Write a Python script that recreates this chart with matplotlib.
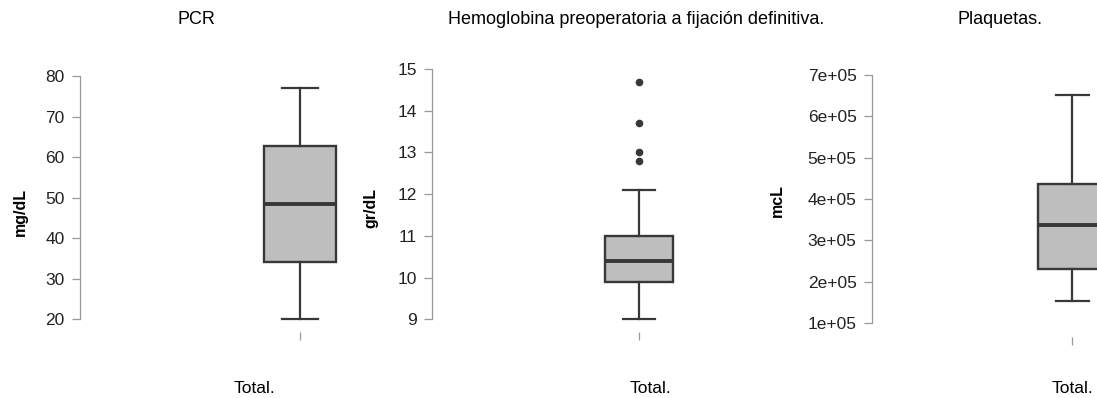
import matplotlib
matplotlib.use("Agg")
import matplotlib.pyplot as plt
from matplotlib.ticker import FuncFormatter

plt.rcParams["font.family"] = ["Liberation Sans", "DejaVu Sans"]

# -----------------------------
# Data
# -----------------------------
titles = ["PCR", "Hemoglobina preoperatoria a fijación definitiva.", "Plaquetas."]
ylabels = ["mg/dL", "gr/dL", "mcL"]
group_label = "Total."

pcr = dict(med=48.5, q1=34.2, q3=62.7, whislo=20, whishi=77, fliers=[])
hb = dict(med=10.4, q1=9.9, q3=11.0, whislo=9.0, whishi=12.1,
          fliers=[12.8, 13.0, 13.7, 14.7])
plaq = dict(med=337000, q1=230000, q3=437000, whislo=155000, whishi=650000,
            fliers=[])

pcr_ticks = [20, 30, 40, 50, 60, 70, 80]
hb_ticks = [9, 10, 11, 12, 13, 14, 15]
plaq_ticks = [100000, 200000, 300000, 400000, 500000, 600000, 700000]

# -----------------------------
# Layout (pixels of a 1097x398 canvas)
# -----------------------------
W, H = 1097, 398
fig = plt.figure(figsize=(W / 100, H / 100), dpi=100)

EDGE = "#383838"
FILL = "#BEBEBE"
AXC = "#999999"


def px_axes(left, center, top, bottom):
    width = 2 * (center - left)
    ax = fig.add_axes([left / W, (H - bottom) / H, width / W, (bottom - top) / H])
    ax.set_facecolor("none")
    return ax


def draw_panel(ax, stats, ticks, ylim, box_w, cap_w, fmt=None):
    ax.bxp([stats], positions=[1], widths=box_w, capwidths=cap_w,
           patch_artist=True, showfliers=True,
           boxprops=dict(facecolor=FILL, edgecolor=EDGE, linewidth=1.7),
           medianprops=dict(color=EDGE, linewidth=2.8),
           whiskerprops=dict(color=EDGE, linewidth=1.6),
           capprops=dict(color=EDGE, linewidth=1.6),
           flierprops=dict(marker="o", markersize=4.5, markerfacecolor=EDGE,
                           markeredgecolor=EDGE))
    ax.set_xlim(0, 2)
    ax.set_ylim(*ylim)
    ax.set_yticks(ticks)
    if fmt is not None:
        ax.yaxis.set_major_formatter(FuncFormatter(fmt))
    ax.set_xticks([1])
    ax.set_xticklabels([""])
    for s in ["top", "right", "bottom"]:
        ax.spines[s].set_visible(False)
    ax.spines["left"].set_bounds(ticks[0], ticks[-1])
    ax.spines["left"].set_color(AXC)
    ax.spines["left"].set_linewidth(0.9)
    ax.tick_params(axis="y", length=6, width=0.9, color=AXC, labelsize=12.5,
                   labelcolor="#222222", pad=5)
    ax.tick_params(axis="x", length=6, width=0.9, color=AXC)


# PCR
ax1 = px_axes(80, 300, 60, 332)
draw_panel(ax1, pcr, pcr_ticks, (16.86, 84.02), 0.33, 0.16)

# Hemoglobina
ax2 = px_axes(432, 639, 60, 332)
draw_panel(ax2, hb, hb_ticks, (8.696, 15.216), 0.333, 0.15)

# Plaquetas
ax3 = px_axes(872, 1072, 60, 337)
draw_panel(ax3, plaq, plaq_ticks, (66900, 735500), 0.336, 0.165,
           fmt=lambda v, p: f"{v:.0e}")

# -----------------------------
# Titles and labels
# -----------------------------
for x, t in zip([196, 636, 1000], titles):
    fig.text(x / W, (H - 24) / H, t, ha="center", va="baseline", fontsize=13)
for (x, y), lab in zip([(20, 212), (371, 208), (777, 201)], ylabels):
    fig.text(x / W, (H - y) / H, lab, ha="center", va="center", rotation=90,
             fontsize=11.5, fontweight="bold")
for x in [255, 651, 1072]:
    fig.text(x / W, (H - 393) / H, group_label, ha="center", va="baseline",
             fontsize=12.5)

fig.savefig("out.png", dpi=100)
